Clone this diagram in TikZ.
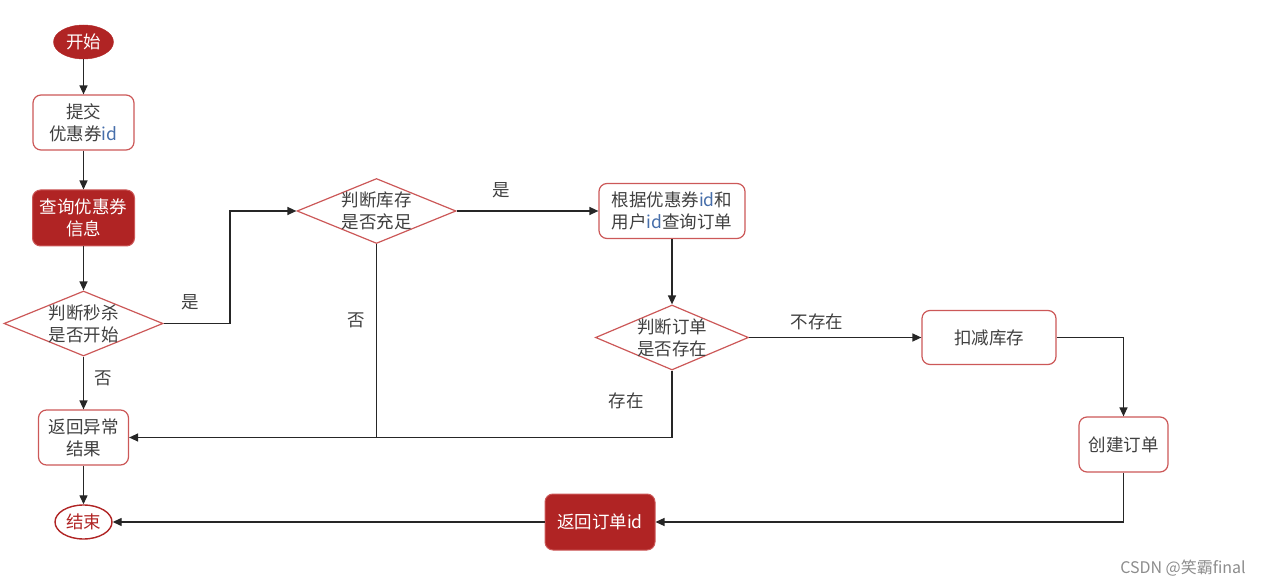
\documentclass[tikz,border=0pt]{standalone}
\usepackage{fontspec}
\setmainfont{Noto Sans CJK SC}
\usetikzlibrary{shapes.geometric,arrows.meta}
\definecolor{dred}{RGB}{176,36,36}
\definecolor{bred}{RGB}{204,88,88}
\definecolor{txt}{RGB}{64,64,64}
\definecolor{idblue}{RGB}{70,110,170}
\definecolor{wm}{RGB}{140,140,140}
\newcommand{\idt}{\textcolor{idblue}{id}}
\tikzset{
  every node/.style={font=\fontsize{17.5}{22}\selectfont, text=txt},
  box/.style={draw=bred, line width=1.2pt, rounded corners=8pt, fill=white, align=center, inner sep=0pt},
  fbox/.style={draw=bred, line width=1pt, rounded corners=8pt, fill=dred, text=white, align=center, inner sep=0pt},
  dia/.style={draw=bred, line width=1.2pt, diamond, aspect=2.45, inner sep=0pt, fill=white},
  dtext/.style={align=center, text=txt, inner sep=0pt},
  lbl/.style={text=txt, inner sep=0pt},
  conn/.style={draw=black!85, line width=1.3pt, -{Triangle[length=9pt,width=8pt]}},
  plain/.style={draw=black!85, line width=1.3pt},
}
\begin{document}
\begin{tikzpicture}[x=1pt,y=-1pt]
\useasboundingbox (0,0) rectangle (1261,585);
% nodes
\node[ellipse, fill=dred, draw=dred, text=white, minimum width=60pt, minimum height=34pt, inner sep=0pt] (start) at (83.5,42) {开始};
\node[box, minimum width=101pt, minimum height=55pt] (submit) at (83.5,122.5) {提交\\优惠券\idt};
\node[fbox, minimum width=102pt, minimum height=56pt] (query) at (83.5,218) {查询优惠券\\信息};
\node[dia, minimum width=159pt, minimum height=65pt, label={[dtext]center:判断秒杀\\是否开始}] (d1) at (83.5,323.5) {};
\node[box, minimum width=90pt, minimum height=55pt] (r1) at (83.5,437.5) {返回异常\\结果};
\node[ellipse, draw=dred, line width=1.4pt, fill=white, text=dred, minimum width=57pt, minimum height=34pt, inner sep=0pt] (end) at (83.5,522) {结束};
\node[dia, minimum width=159pt, minimum height=65pt, label={[dtext]center:判断库存\\是否充足}] (d2) at (376.5,211) {};
\node[box, minimum width=146pt, minimum height=55pt] (q2) at (672,211) {根据优惠券\idt 和\\用户\idt 查询订单};
\node[dia, minimum width=153pt, minimum height=65pt, label={[dtext]center:判断订单\\是否存在}] (d3) at (672,337.5) {};
\node[box, minimum width=134pt, minimum height=54pt] (s1) at (989,337.5) {扣减库存};
\node[box, minimum width=89pt, minimum height=55pt] (c1) at (1123.5,444.5) {创建订单};
\node[fbox, minimum width=110pt, minimum height=56pt] (ro) at (600,522) {返回订单\textcolor{white}{id}};
% helper coordinates
\coordinate (k1) at (230,0);
\coordinate (j1) at (d2.south |- r1.east);
% connectors
\draw[conn] (start) -- (submit);
\draw[conn] (submit) -- (query);
\draw[conn] (query) -- (d1);
\draw[conn] (d1.east) -- (d1.east -| k1) |- (d2.west);
\draw[conn] (d1.south) -- (r1.north);
\draw[conn] (d2.east) -- (q2.west);
\draw[plain] (d2.south) -- (j1);
\draw[conn] (q2.south) -- (d3.north);
\draw[conn] (d3.south) |- (r1.east);
\draw[conn] (d3.east) -- (s1.west);
\draw[conn] (s1.east) -| (c1.north);
\draw[conn] (c1.south) |- (ro.east);
\draw[conn] (ro.west) -- (end.east);
\draw[conn] (r1.south) -- (end.north);
% labels
\node[lbl] (l1) at (190,302) {是};
\node[lbl] (l2) at (103,378) {否};
\node[lbl] (l3) at (501,190) {是};
\node[lbl] (l4) at (356,320) {否};
\node[lbl] (l5) at (626,401) {存在};
\node[lbl] (l6) at (817,322) {不存在};
\node[text=wm, font=\fontsize{16}{18}\selectfont, inner sep=0pt] (wmk) at (1183,568) {CSDN @笑霸final};
\end{tikzpicture}
\end{document}
